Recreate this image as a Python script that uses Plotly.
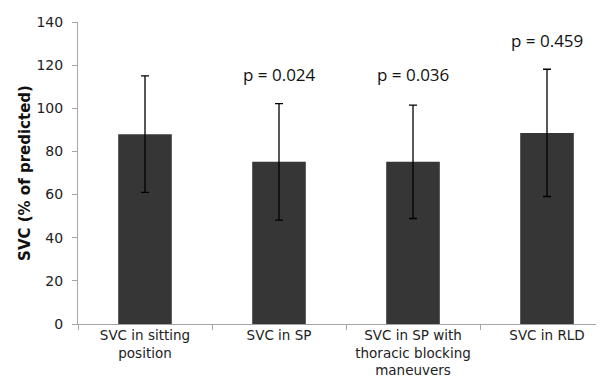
import plotly.graph_objects as go

categories = ["SVC in sitting<br>position", "SVC in SP",
              "SVC in SP with<br>thoracic blocking<br>maneuvers", "SVC in RLD"]
means = [88, 75.2, 75.2, 88.6]
sds = [27, 27, 26.3, 29.5]
p_labels = ["", "p = 0.024", "p = 0.036", "p = 0.459"]
p_label_y = [None, 115.5, 115.5, 131.5]
y_ticks = [0, 20, 40, 60, 80, 100, 120, 140]

fig = go.Figure()
fig.add_trace(go.Bar(
    x=categories, y=means,
    marker=dict(color="#363636", line=dict(width=0)),
    error_y=dict(type="data", array=sds, visible=True,
                 color="#000000", thickness=1.3, width=4),
))

for c, t, yv in zip(categories, p_labels, p_label_y):
    if t:
        fig.add_annotation(x=c, y=yv, xref="x", yref="y", text=t,
                           showarrow=False,
                           font=dict(family="Open Sans", size=17, color="#111111"))

fig.update_layout(
    width=604, height=383,
    margin=dict(l=70, r=0, t=14, b=67),
    plot_bgcolor="white", paper_bgcolor="white",
    bargap=0.6, showlegend=False,
    font=dict(family="DejaVu Sans", size=13, color="#222222"),
)
fig.update_xaxes(
    range=[-0.5, 3.485], showline=True, linecolor="#a6a6a6", linewidth=1,
    ticks="outside", tickson="boundaries", ticklen=5, tickcolor="#a6a6a6",
    showgrid=False, ticklabelstandoff=-1, automargin=False,
    tickfont=dict(family="DejaVu Sans", size=13.5, color="#222222"),
    fixedrange=True,
)
fig.update_yaxes(
    range=[0, 140], tickvals=y_ticks, showline=True, linecolor="#a6a6a6",
    linewidth=1, ticks="outside", ticklen=5, tickcolor="#a6a6a6",
    showgrid=False, zeroline=False, ticklabelstandoff=6, automargin=False,
    tickfont=dict(family="DejaVu Sans", size=14, color="#222222"),
    title=dict(text="<b>SVC (% of predicted)</b>", standoff=2,
               font=dict(family="DejaVu Sans", size=15, color="#111111")),
)

fig.write_html("out.html")
